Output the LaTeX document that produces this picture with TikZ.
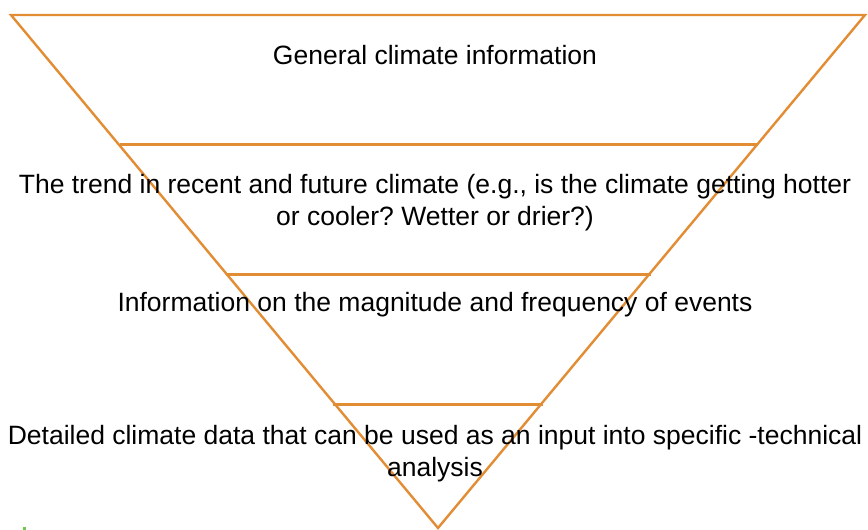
\documentclass[tikz,border=0pt]{standalone}
\usepackage{fontspec}
\setmainfont{Liberation Sans}
\frenchspacing
\definecolor{funnel}{RGB}{226,140,52}
\definecolor{dotgreen}{RGB}{110,200,80}
\begin{document}
\begin{tikzpicture}[x=1pt,y=-1pt,
  edge/.style={draw=funnel,line width=2.4pt,line join=miter},
  level/.style={draw=funnel,line width=2.4pt},
  lbl/.style={align=center,font=\fontsize{26.5}{32}\selectfont,inner sep=0pt}]
\useasboundingbox (0,0) rectangle (868,530);
\coordinate (tl) at (11,15);
\coordinate (tr) at (865,15);
\coordinate (ap) at (438,528);
\draw[edge] (tl) -- (tr) -- (ap) -- cycle;
\coordinate (l1) at (120,144.5); \coordinate (r1) at (758,144.5);
\coordinate (l2) at (226,274.5); \coordinate (r2) at (651,274.5);
\coordinate (l3) at (333,404.5); \coordinate (r3) at (543,404.5);
\draw[level] (l1) -- (r1);
\draw[level] (l2) -- (r2);
\draw[level] (l3) -- (r3);
\node[lbl] (t1) at (435,55) {General climate information};
\node[lbl] (t2) at (435,202.5) {The trend in recent and future climate (e.g., is the climate getting hotter\\or cooler? Wetter or drier?)};
\node[lbl] (t3) at (435,305) {Information on the magnitude and frequency of events};
\node[lbl] (t4) at (435,454) {Detailed climate data that can be used as an input into specific -technical\\analysis};
\fill[dotgreen] (23,526.5) rectangle (25.5,529.5);
\end{tikzpicture}
\end{document}
